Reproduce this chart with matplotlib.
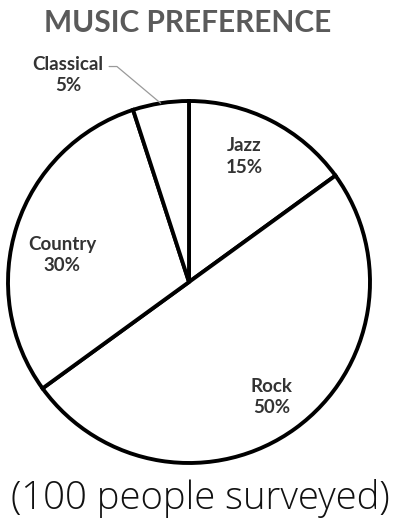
import numpy as np
import matplotlib.pyplot as plt

categories = ["Jazz", "Rock", "Country", "Classical"]
percent = [15, 50, 30, 5]
title = "MUSIC PREFERENCE"
subtitle = "(100 people surveyed)"

W, H, DPI = 400, 532, 100
fig = plt.figure(figsize=(W / DPI, H / DPI), dpi=DPI)
fig.patch.set_facecolor("white")

# pie axes: center (189, 282) px from top, radius 181 px
cx, cy, r = 189, 282, 181
ax = fig.add_axes([(cx - r) / W, (H - cy - r) / H, 2 * r / W, 2 * r / H])

labels = [f"{c}\n{p}%" if c != "Classical" else "" for c, p in zip(categories, percent)]
wedges, texts = ax.pie(percent, labels=labels, startangle=90, counterclock=False,
                       labeldistance=0.75, colors=["white"] * 4,
                       wedgeprops=dict(edgecolor="black", linewidth=2.8))
label_pos = {"Jazz": (0.307, 0.693), "Rock": (0.456, -0.635), "Country": (-0.70, 0.15)}
lab_font = dict(family=["Lato", "DejaVu Sans"], weight="bold", size=13.5)
for c, t in zip(categories, texts):
    if c in label_pos:
        t.set_position(label_pos[c])
    t.set_ha("center")
    t.set_va("center")
    t.set_fontfamily(lab_font["family"])
    t.set_fontweight("bold")
    t.set_fontsize(lab_font["size"])
    t.set_color("#333333")
    t.set_linespacing(1.3)
ax.set_xlim(-1, 1)
ax.set_ylim(-1, 1)
ax.set_aspect("equal")

# Classical label with leader line
w = wedges[3]
mid = np.deg2rad((w.theta1 + w.theta2) / 2)
ax.annotate(f"{categories[3]}\n{percent[3]}%", xy=(np.cos(mid), np.sin(mid)),
            xytext=(-0.668, 1.144), ha="center", va="center",
            fontfamily=lab_font["family"], fontweight="bold", fontsize=lab_font["size"],
            color="#333333", linespacing=1.3, annotation_clip=False,
            arrowprops=dict(arrowstyle="-", color="#9a9a9a", lw=0.9,
                            shrinkA=2, shrinkB=0, relpos=(1.0, 0.72),
                            connectionstyle="angle,angleA=0,angleB=140,rad=0"))

fig.text(188 / W, 1 - 23 / H, title, ha="center", va="center",
         fontfamily=["Lato", "DejaVu Sans"], fontweight="bold", fontsize=21.5,
         color="#5a5a5a")
fig.text(200 / W, 1 - 499 / H, subtitle, ha="center", va="center",
         fontfamily=["Open Sans", "DejaVu Sans"], fontweight="light", fontsize=27.5,
         color="#111111")

fig.savefig("out.png", dpi=DPI, facecolor="white")
